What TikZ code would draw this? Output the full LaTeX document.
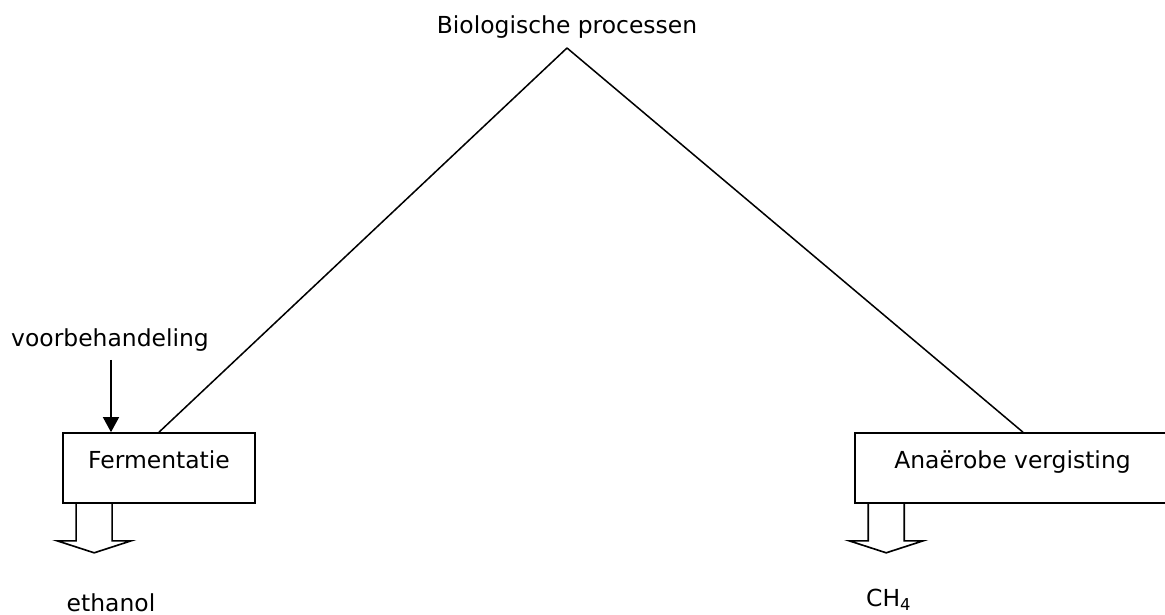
\documentclass[tikz,border=0pt]{standalone}
\usepackage{fontspec}
\setmainfont{DejaVu Sans}
\usepackage{tikz}
\usetikzlibrary{arrows.meta, calc}

% hollow output arrow below a box
\newcommand{\outarrow}[1]{%
  \draw[flow] ($(#1.south west)+(14,0)$) -- ++(0,37) -- ++(-19,0) -- ++(37,12)
    -- ++(37,-12) -- ++(-19,0) -- ++(0,-37);
}

\begin{document}
\begin{tikzpicture}[
    x=0.015cm, y=-0.015cm,
    every node/.style={font=\fontsize{10}{12}\selectfont},
    box/.style={rectangle, draw, line width=0.7pt, minimum height=1.05cm,
      text height=0.25cm, text depth=0.24cm, inner sep=0pt},
    line/.style={line width=0.65pt},
    flow/.style={line width=0.7pt},
    arrow/.style={-{Triangle[length=6.4pt, width=6.8pt]}, line width=0.7pt}
]
\useasboundingbox (0,0) rectangle (1165,615);
\clip (0,0) rectangle (1165,615);

\node (bio) at (567,27) {Biologische processen};
\coordinate (top) at (567,48);

\node[box, minimum width=2.88cm] (ferm) at (159,468) {Fermentatie};
\node[box, minimum width=4.725cm] (anaer) at (1012.5,468) {Anaërobe vergisting};

\node (voor) at (110,340) {voorbehandeling};
\coordinate (voorend) at (111,360);

\draw[line] (top) -- (ferm.north);
\draw[line] (top) -- ($(anaer.north west)!0.533!(anaer.north east)$);
\draw[arrow] (voorend) -- (voorend |- ferm.north);

\outarrow{ferm}
\outarrow{anaer}

\node (ethanol) at (111,603) {ethanol};
\node (ch4) at (889,600) {CH\textsubscript{4}};

\end{tikzpicture}
\end{document}
